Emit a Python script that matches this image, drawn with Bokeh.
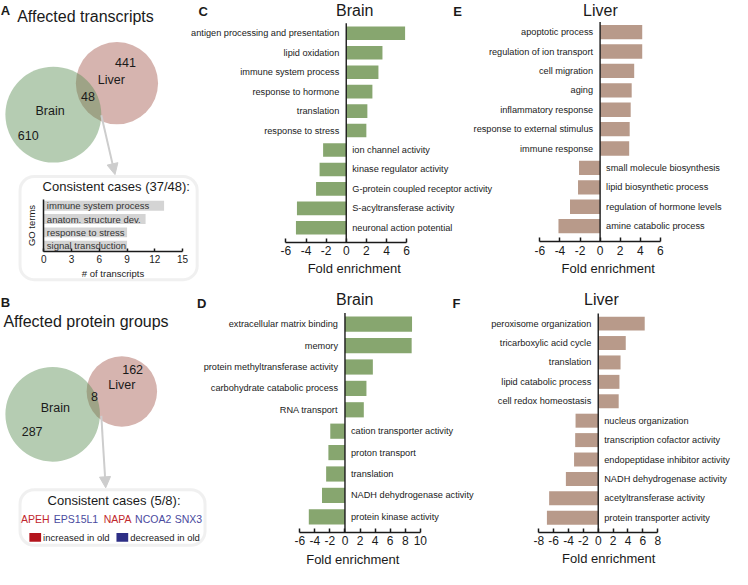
from bokeh.plotting import figure
from bokeh.models import (Range1d, LinearAxis, FixedTicker, BoxAnnotation, Arrow,
                          NormalHead, ColumnDataSource)
from bokeh.core.properties import value
from bokeh.embed import file_html
from bokeh.resources import INLINE

# ---------------- data ----------------
venn_sets = ["Brain", "Liver"]
transcript_counts = [610, 48, 441]      # brain only, shared, liver only
protein_counts = [287, 8, 162]

go_terms = ["immune system process", "anatom. structure dev.",
            "response to stress", "signal transduction"]
go_counts = [13, 11, 9, 9]
go_ticks = [0, 3, 6, 9, 12, 15]

genes = ["APEH", "EPS15L1", "NAPA", "NCOA2", "SNX3"]
gene_change = ["increased", "decreased", "increased", "decreased", "decreased"]
legend_labels = ["increased in old", "decreased in old"]

brain_tx_terms = ["antigen processing and presentation", "lipid oxidation",
                  "immune system process", "response to hormone", "translation",
                  "response to stress", "ion channel activity",
                  "kinase regulator activity", "G-protein coupled receptor activity",
                  "S-acyltransferase activity", "neuronal action potential"]
brain_tx_fold = [5.85, 3.6, 3.2, 2.6, 2.1, 2.0, -2.3, -2.65, -3.0, -4.9, -5.0]
brain_tx_ticks = [-6, -4, -2, 0, 2, 4, 6]

liver_tx_terms = ["apoptotic process", "regulation of ion transport", "cell migration",
                  "aging", "inflammatory response", "response to external stimulus",
                  "immune response", "small molecule biosynthesis",
                  "lipid biosynthetic process", "regulation of hormone levels",
                  "amine catabolic process"]
liver_tx_fold = [4.2, 4.2, 3.4, 3.15, 3.05, 2.95, 2.9, -2.1, -2.2, -3.0, -4.15]
liver_tx_ticks = [-6, -4, -2, 0, 2, 4, 6]

brain_pr_terms = ["extracellular matrix binding", "memory",
                  "protein methyltransferase activity", "carbohydrate catabolic process",
                  "RNA transport", "cation transporter activity", "proton transport",
                  "translation", "NADH dehydrogenase activity", "protein kinase activity"]
brain_pr_fold = [8.9, 8.85, 3.7, 2.85, 2.5, -1.95, -2.2, -2.5, -3.05, -4.8]
brain_pr_ticks = [-6, -4, -2, 0, 2, 4, 6, 8, 10]

liver_pr_terms = ["peroxisome organization", "tricarboxylic acid cycle", "translation",
                  "lipid catabolic process", "cell redox homeostasis",
                  "nucleus organization", "transcription cofactor activity",
                  "endopeptidase inhibitor activity", "NADH dehydrogenase activity",
                  "acetyltransferase activity", "protein transporter activity"]
liver_pr_fold = [6.25, 3.7, 3.0, 2.85, 2.75, -3.05, -3.1, -3.25, -4.35, -6.6, -6.9]
liver_pr_ticks = [-8, -6, -4, -2, 0, 2, 4, 6, 8]

# ---------------- style / layout ----------------
REF_W, REF_H = 748, 585
FONT = "Liberation Sans"
TXT = "#1a1a1a"
GREEN_BAR = "#87a66f"
BROWN_BAR = "#b89a8a"
VENN_PINK = "#d6b4af"
VENN_GREEN = "#5b8e54"
BOX_GREY = "#cdcdcd"
UP_RED = "#c1272d"
DOWN_BLUE = "#4a4a9e"
SQ_RED = "#b3141c"
SQ_BLUE = "#2d2e85"
LABEL_SIZE = "9.2px"

p = figure(width=732, height=569, x_range=Range1d(0, REF_W), y_range=Range1d(REF_H, 0),
           x_axis_type=None, y_axis_type=None, toolbar_location=None,
           output_backend="svg", min_border=0, outline_line_color=None)
p.title.visible = False
p.background_fill_color = "white"
p.border_fill_color = "white"


def txt(x, y, s, size, align="center", color=TXT, style="normal", **kw):
    p.text(x=[x], y=[y], text=[s], text_font=value(FONT), text_font_size=size,
           text_align=align, text_baseline="middle", text_color=color,
           text_font_style=style, **kw)


def style_axis(ax, label_size, ticks):
    ax.axis_line_color = TXT
    ax.axis_line_width = 1.5
    ax.major_tick_line_color = TXT
    ax.major_tick_line_width = 1.5
    ax.major_tick_out = 0
    ax.minor_tick_in = 0
    ax.minor_tick_out = 0
    ax.major_label_text_font = FONT
    ax.major_label_text_font_size = label_size
    ax.major_label_text_color = TXT
    ax.major_label_overrides = {t: str(t) for t in ticks}
    ax.axis_label_text_font = FONT
    ax.axis_label_text_font_style = "normal"
    ax.axis_label_text_color = TXT


def bar_panel(name, terms, vals, ticks, color, g):
    n = len(terms)
    xr, yr = name + "_x", name + "_y"
    p.extra_x_ranges[xr] = Range1d(-g["zero"] / g["ppu"], (REF_W - g["zero"]) / g["ppu"])
    p.extra_y_ranges[yr] = Range1d((REF_H - g["row0"]) / g["step"], -g["row0"] / g["step"])
    rows = list(range(n))
    src = ColumnDataSource(dict(y=rows, v=vals, t=terms))
    p.hbar(y="y", left=0, right="v", height=g["h"], source=src, fill_color=color,
           line_color=None, x_range_name=xr, y_range_name=yr)
    pos = [i for i in rows if vals[i] >= 0]
    neg = [i for i in rows if vals[i] < 0]
    common = dict(text_font=value(FONT), text_font_size=LABEL_SIZE, text_color=TXT,
                  text_baseline="middle", x_range_name=xr, y_range_name=yr)
    p.text(x=[0] * len(pos), y=pos, text=[terms[i] for i in pos],
           text_align="right", x_offset=-7, **common)
    p.text(x=[0] * len(neg), y=neg, text=[terms[i] for i in neg],
           text_align="left", x_offset=6, **common)
    loc = n - 1 + g["axis"]
    p.segment(x0=[0], y0=[-0.52], x1=[0], y1=[loc], line_color=TXT, line_width=1.4,
              x_range_name=xr, y_range_name=yr)
    ax = LinearAxis(x_range_name=xr, y_range_name=yr, fixed_location=loc,
                    bounds=(ticks[0], ticks[-1]), ticker=FixedTicker(ticks=ticks))
    style_axis(ax, "12px", ticks)
    ax.major_tick_in = 4
    ax.major_label_standoff = 4
    p.add_layout(ax, "below")


# ---- panel letters and titles ----
for letter, lx, ly in [("A", 5, 10.5), ("B", 5, 311), ("C", 207, 11),
                       ("D", 205.5, 312), ("E", 467, 11), ("F", 466, 312)]:
    txt(lx, ly, letter, "13px", style="bold")
txt(17, 16, "Affected transcripts", "16px", align="left")
txt(3, 330, "Affected protein groups", "16px", align="left")

# ---- Venn diagrams ----
venn_geo = [
    dict(liver=(119, 85, 42), brain=(54, 117.3, 49),
         pos=[(127.7, 64), (113.3, 81.7), (89.3, 98.3), (50.7, 113.3), (28.3, 139.3)],
         counts=transcript_counts),
    dict(liver=(124, 402, 36), brain=(53.3, 425.5, 48.3),
         pos=[(135, 379.3), (124, 395), (96, 407.3), (56, 419.3), (32.3, 442.7)],
         counts=protein_counts),
]
for vg in venn_geo:
    lx, ly, lr = vg["liver"]
    bx, by, br = vg["brain"]
    p.circle(x=[lx], y=[ly], radius=lr, fill_color=VENN_PINK, line_color=None)
    p.circle(x=[bx], y=[by], radius=br, fill_color=VENN_GREEN, fill_alpha=0.45,
             line_color=None)
    brain_only, shared, liver_only = vg["counts"]
    labels = [str(liver_only), venn_sets[1], str(shared), venn_sets[0], str(brain_only)]
    for (x, y), s in zip(vg["pos"], labels):
        txt(x, y, s, "12.5px")

# arrows to the boxes
for (x0, y0, x1, y1) in [(103, 118, 117, 179), (103, 427, 107.5, 501)]:
    p.add_layout(Arrow(x_start=x0, y_start=y0, x_end=x1, y_end=y1,
                       line_color=BOX_GREY, line_width=2,
                       end=NormalHead(size=11, fill_color=BOX_GREY, line_color=BOX_GREY)))

# rounded boxes
for (l, r, t, b) in [(20, 201, 181, 287), (20, 209, 503, 560)]:
    p.add_layout(BoxAnnotation(left=l, right=r, top=t, bottom=b, fill_color=None,
                               line_color=BOX_GREY, line_width=3, border_radius=14))

# ---- inset GO bar chart (panel A) ----
txt(43, 191, "Consistent cases (37/48):", "13px", align="left")
g0, gppu, grow0, gstep = 44.3, 9.45, 211.0, 13.7
p.extra_x_ranges["go_x"] = Range1d(-g0 / gppu, (REF_W - g0) / gppu)
p.extra_y_ranges["go_y"] = Range1d((REF_H - grow0) / gstep, -grow0 / gstep)
go_rows = list(range(len(go_terms)))
p.hbar(y=go_rows, left=0, right=go_counts, height=0.74, fill_color="#d4d4d4",
       line_color=None, x_range_name="go_x", y_range_name="go_y")
p.text(x=[0] * len(go_terms), y=go_rows, text=go_terms, x_offset=3,
       text_font=value(FONT), text_font_size="9.5px", text_color="#333333",
       text_align="left", text_baseline="middle", x_range_name="go_x",
       y_range_name="go_y")
go_loc = len(go_terms) - 1 + 0.45
gx_ax = LinearAxis(x_range_name="go_x", y_range_name="go_y", fixed_location=go_loc,
                   bounds=(go_ticks[0], go_ticks[-1]), ticker=FixedTicker(ticks=go_ticks),
                   axis_label="# of transcripts")
style_axis(gx_ax, "10px", go_ticks)
gx_ax.major_tick_in = 3
gx_ax.major_label_standoff = 3
gx_ax.axis_label_standoff = 2
gx_ax.axis_label_text_font_size = "9.5px"
p.add_layout(gx_ax, "below")
gy_ax = LinearAxis(x_range_name="go_x", y_range_name="go_y", fixed_location=0,
                   bounds=(-0.45, go_loc), ticker=FixedTicker(ticks=[]),
                   axis_label="GO terms")
style_axis(gy_ax, "10px", [])
gy_ax.major_tick_in = 0
gy_ax.axis_label_standoff = 7
gy_ax.axis_label_text_font_size = "9.5px"
p.add_layout(gy_ax, "left")

# ---- consistent protein cases (panel B) ----
txt(116, 514, "Consistent cases (5/8):", "13px")
gene_x = [21, 54.5, 105.5, 137.5, 178]
gene_cols = [UP_RED if c == "increased" else DOWN_BLUE for c in gene_change]
p.text(x=gene_x, y=[533] * len(genes), text=genes, text_color=gene_cols,
       text_font=value(FONT), text_font_size="10.5px", text_align="left",
       text_baseline="middle")
p.rect(x=[35.5, 124.5], y=[552, 552], width=12, height=9,
       fill_color=[SQ_RED, SQ_BLUE], line_color=None)
txt(43.5, 552, legend_labels[0], "9.5px", align="left")
txt(132.5, 552, legend_labels[1], "9.5px", align="left")

# ---- enrichment panels ----
panels = [
    ("c", brain_tx_terms, brain_tx_fold, brain_tx_ticks, GREEN_BAR,
     dict(zero=353.3, ppu=10.28, row0=33.7, step=20.0, axis=0.73, h=0.70),
     "Brain", (362, 10), (361.5, 276)),
    ("e", liver_tx_terms, liver_tx_fold, liver_tx_ticks, BROWN_BAR,
     dict(zero=612.7, ppu=10.25, row0=32.5, step=19.95, axis=0.8, h=0.74),
     "Liver", (613, 10), (621, 276)),
    ("d", brain_pr_terms, brain_pr_fold, brain_pr_ticks, GREEN_BAR,
     dict(zero=352.0, ppu=7.7, row0=332.8, step=22.0, axis=0.72, h=0.71),
     "Brain", (362, 307), (360, 575)),
    ("f", liver_pr_terms, liver_pr_fold, liver_pr_ticks, BROWN_BAR,
     dict(zero=610.8, ppu=7.6, row0=332.2, step=19.96, axis=0.75, h=0.72),
     "Liver", (614, 307), (621.5, 574)),
]
for name, terms, vals, ticks, col, geo, title, tpos, xlpos in panels:
    bar_panel(name, terms, vals, ticks, col, geo)
    txt(tpos[0], tpos[1], title, "16px")
    txt(xlpos[0], xlpos[1], "Fold enrichment", "13px")

open("out.html", "w").write(file_html(p, INLINE))
